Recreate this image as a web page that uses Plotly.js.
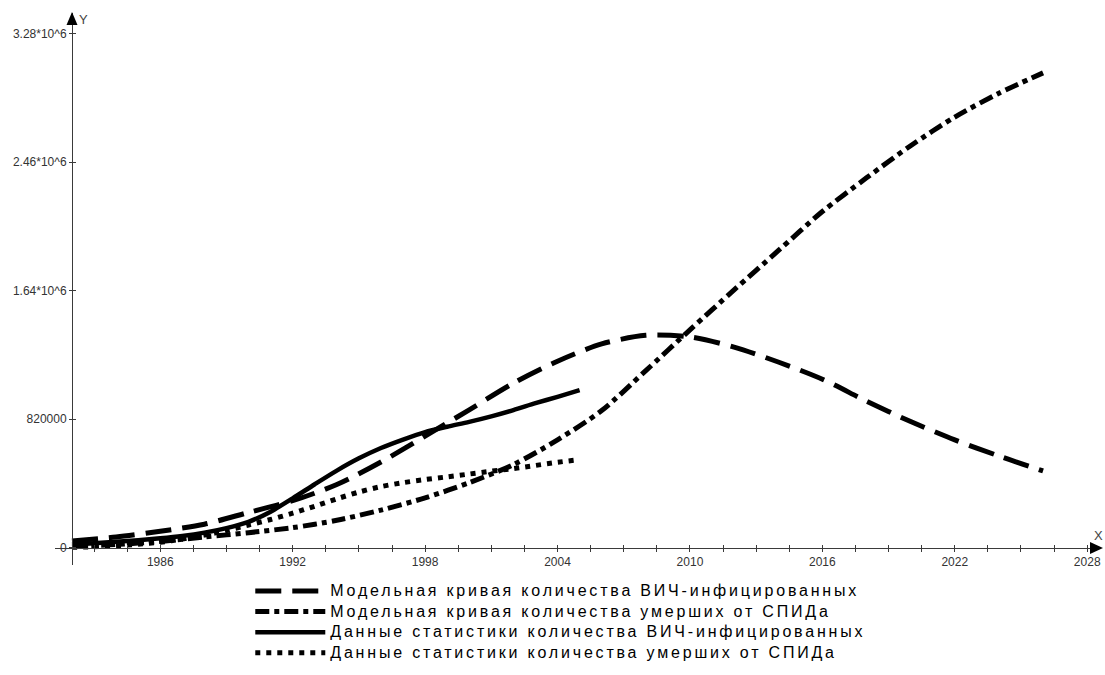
<!DOCTYPE html>
<html><head><meta charset="utf-8">
<script src="https://cdn.plot.ly/plotly-3.0.1.min.js"></script>
<style>html,body{margin:0;padding:0;background:#fff;}#chart{width:1105px;height:675px;}
#chart .legendtext{font-size:16px !important;letter-spacing:2.8px;}
#chart .legend .scrollbox{clip-path:none !important;}</style>
</head><body><div id="chart"></div>
<script>
// ---- data ----
const modelYears = [1982,1984,1986,1988,1990,1992,1994,1996,1998,2000,2002,2004,2006,2008,2010,2012,2014,2016,2018,2020,2022,2024,2026];
const modelInfected = [43000,68000,105000,150000,225000,300000,403000,547000,712000,880000,1050000,1190000,1300000,1355000,1345000,1280000,1185000,1075000,935000,805000,688000,585000,490000];
const modelDeaths = [8000,20000,40000,68000,96000,128000,175000,240000,318000,415000,530000,688000,875000,1130000,1390000,1645000,1895000,2145000,2360000,2565000,2748000,2900000,3030000];
const statYears = [1982,1983,1984,1985,1986,1987,1988,1989,1990,1991,1992,1993,1994,1995,1996,1997,1998,1999,2000,2001,2002,2003,2004,2005];
const statInfected = [20000,28000,38000,48000,60000,75000,96000,125000,165000,230000,315000,405000,492000,570000,636000,690000,738000,772000,803000,838000,878000,922000,963000,1005000];
const statDeaths = [3000,6000,12000,22000,35000,55000,80000,110000,145000,180000,220000,265000,312000,355000,390000,415000,435000,452000,470000,488000,505000,525000,545000,562000];
const seriesNames = [
  'Модельная кривая количества ВИЧ-инфицированных',
  'Модельная кривая количества умерших от СПИДа',
  'Данные статистики количества ВИЧ-инфицированных',
  'Данные статистики количества умерших от СПИДа'
];
const xTickVals = [1986,1992,1998,2004,2010,2016,2022,2028];
const xTickText = ['1986','1992','1998','2004','2010','2016','2022','2028'];
const yTickVals = [0,820000,1640000,2460000,3280000];
const yTickText = ['0','820000','1.64*10^6','2.46*10^6','3.28*10^6'];

// ---- layout geometry ----
const W = 1105, H = 675;
const L = 55, R = 1100, T = 13, B = 565;
const xRange = [1981.23, 2028.58];
const yRange = [-110400, 3412000];
const minorX = [];
for (let v = 1983; v <= 2028.01; v += 1.5) minorX.push(v);
const posX = (1982 - xRange[0]) / (xRange[1] - xRange[0]);
const posY = (0 - yRange[0]) / (yRange[1] - yRange[0]);
const px = x => (x - L) / (R - L);
const py = y => (B - y) / (B - T);

const font = 'Liberation Sans, Arial, sans-serif';
const axisCol = '#3a3a3a';

const traces = [
  {x: modelYears, y: modelInfected, name: seriesNames[0], mode: 'lines',
   line: {color: '#000', width: 5, dash: '26px,11px', shape: 'spline', smoothing: 0.8}},
  {x: modelYears, y: modelDeaths, name: seriesNames[1], mode: 'lines',
   line: {color: '#000', width: 5, dash: '14px,5px,5px,5px', shape: 'spline', smoothing: 0.8}},
  {x: statYears, y: statInfected, name: seriesNames[2], mode: 'lines',
   line: {color: '#000', width: 4.5, shape: 'spline', smoothing: 0.8}},
  {x: statYears, y: statDeaths, name: seriesNames[3], mode: 'lines',
   line: {color: '#000', width: 5, dash: '5px,6px', shape: 'spline', smoothing: 0.8}},
  {x: [null], y: [null], xaxis: 'x2', yaxis: 'y2', showlegend: false, hoverinfo: 'skip', mode: 'lines'}
];

const baseX = {range: xRange, showgrid: false, zeroline: false, anchor: 'free', position: posY,
  tickmode: 'array', tickvals: xTickVals, ticklen: 3, tickwidth: 1, tickcolor: axisCol, automargin: false};
const baseY = {range: yRange, showgrid: false, zeroline: false, anchor: 'free', position: posX,
  tickmode: 'array', tickvals: yTickVals, ticklen: 3, tickwidth: 1, tickcolor: axisCol, automargin: false};

const layout = {
  width: W, height: H,
  margin: {l: L, r: W - R, t: T, b: H - B, pad: 0, autoexpand: false},
  paper_bgcolor: '#fff', plot_bgcolor: 'rgba(0,0,0,0)',
  showlegend: true,
  legend: {x: 0.2265, y: 0.147, xref: 'container', yref: 'container', xanchor: 'left', yanchor: 'top',
    font: {family: font, size: 13.5, color: '#000'}, itemwidth: 70, tracegroupgap: 0,
    bgcolor: 'rgba(0,0,0,0)', itemclick: false},
  xaxis: Object.assign({}, baseX, {ticks: 'outside', ticktext: xTickText, showline: true,
    linecolor: axisCol, linewidth: 1, tickfont: {family: font, size: 12, color: '#333'},
    minor: {tickmode: 'array', tickvals: minorX, ticks: 'outside', ticklen: 3, tickwidth: 1, tickcolor: axisCol}}),
  yaxis: Object.assign({}, baseY, {ticks: 'outside', ticktext: yTickText, showline: true,
    linecolor: axisCol, linewidth: 1, tickfont: {family: font, size: 12, color: '#333'}}),
  xaxis2: Object.assign({}, baseX, {overlaying: 'x', ticks: 'inside', showticklabels: false, showline: false,
    minor: {tickmode: 'array', tickvals: minorX, ticks: 'inside', ticklen: 3, tickwidth: 1, tickcolor: axisCol}}),
  yaxis2: Object.assign({}, baseY, {overlaying: 'y', ticks: 'inside', showticklabels: false, showline: false}),
  shapes: [
    {type: 'path', xref: 'paper', yref: 'paper', fillcolor: '#000', line: {width: 0},
     path: `M${px(1103)},${py(548)} L${px(1090)},${py(542)} L${px(1090)},${py(554)} Z`},
    {type: 'path', xref: 'paper', yref: 'paper', fillcolor: '#000', line: {width: 0},
     path: `M${px(72)},${py(12)} L${px(66.5)},${py(25)} L${px(77.5)},${py(25)} Z`}
  ],
  annotations: [
    {text: 'X', xref: 'paper', yref: 'paper', x: px(1098), y: py(535), xanchor: 'center', yanchor: 'middle',
     showarrow: false, font: {family: font, size: 13, color: '#444'}},
    {text: 'Y', xref: 'paper', yref: 'paper', x: px(83), y: py(19), xanchor: 'center', yanchor: 'middle',
     showarrow: false, font: {family: font, size: 13, color: '#444'}}
  ]
};

Plotly.newPlot('chart', traces, layout, {staticPlot: true, displayModeBar: false});
</script>
</body></html>
